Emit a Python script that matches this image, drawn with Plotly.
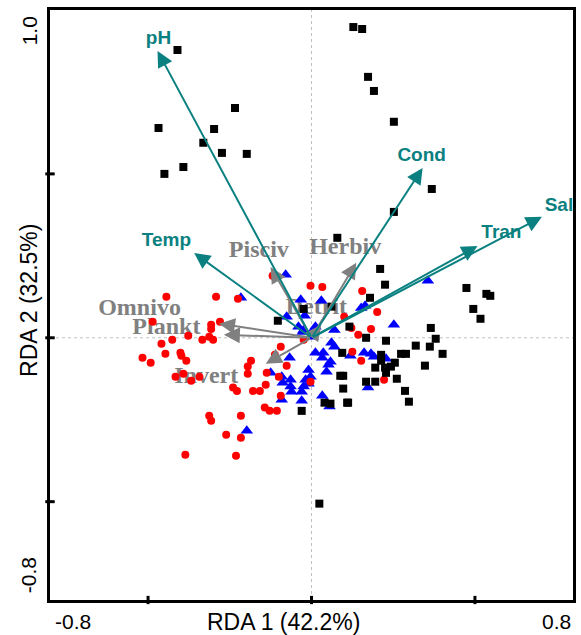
import plotly.graph_objects as go

# ---------------- data ----------------
# Sites, group 1 (black squares)
g1_x = [-0.410, -0.468, -0.450, -0.392, 0.128, 0.155, 0.173, 0.191, -0.234, -0.298,
        -0.331, -0.274, -0.198, 0.252, 0.368, 0.252, 0.210, 0.225, 0.474, 0.535,
        0.547, 0.495, 0.517, 0.365, 0.380, 0.228, 0.319, 0.362, 0.401, 0.274,
        0.289, 0.347, 0.255, 0.261, 0.286, 0.298, 0.213, 0.213, 0.195, 0.225,
        0.243, 0.228, 0.167, 0.195, 0.112, 0.079, -0.024, 0.061, -0.103, 0.116,
        0.094, 0.088, 0.097, 0.097, 0.109, 0.040, 0.058, -0.030, 0.024, 0.167,
        0.179]
g1_y = [0.878, 0.640, 0.500, 0.521, 0.948, 0.942, 0.796, 0.753, 0.701, 0.637,
        0.595, 0.564, 0.561, 0.659, 0.454, 0.384, 0.210, 0.162, 0.152, 0.134,
        0.128, 0.088, 0.058, 0.030, -0.003, -0.009, -0.024, -0.027, -0.049, -0.049,
        -0.049, -0.085, -0.076, -0.125, -0.162, -0.195, -0.052, -0.070, -0.091, -0.091,
        -0.088, -0.107, -0.134, -0.134, -0.198, 0.305, 0.088, 0.095, 0.052, 0.034,
        -0.046, -0.116, -0.116, -0.155, -0.198, -0.198, -0.201, -0.223, -0.506, 0.000,
        0.122]

# Sites, group 2 (red circles)
g2_x = [-0.444, -0.292, -0.225, -0.486, -0.280, -0.307, -0.307, -0.377, -0.426, -0.334,
        -0.313, -0.301, -0.459, -0.517, -0.492, -0.447, -0.401, -0.398, -0.383, -0.416,
        -0.392, -0.368, -0.343, -0.240, -0.228, -0.195, -0.195, -0.313, -0.307, -0.216,
        -0.261, -0.216, -0.386, -0.231, -0.143, -0.128, -0.106, -0.119, -0.003, 0.033,
        -0.024, -0.094, -0.112, -0.076, -0.100, -0.137, -0.185, -0.140, -0.158, -0.179,
        -0.094, -0.003, 0.155, 0.100, 0.143, 0.182, 0.125, 0.152, 0.201, 0.122,
        0.222]
g2_y = [0.125, 0.125, 0.119, 0.049, 0.049, 0.040, 0.027, 0.006, -0.006, -0.006,
        0.003, -0.006, -0.018, -0.061, -0.076, -0.049, -0.046, -0.055, -0.070, -0.119,
        -0.110, -0.131, -0.119, -0.152, -0.162, -0.088, -0.110, -0.238, -0.253, -0.238,
        -0.296, -0.305, -0.357, -0.360, -0.213, -0.223, -0.223, 0.189, 0.159, 0.155,
        -0.006, -0.027, -0.052, -0.085, -0.119, -0.107, -0.070, -0.143, -0.162, -0.162,
        -0.177, -0.134, 0.143, 0.064, 0.009, 0.027, -0.043, -0.070, 0.079, 0.030,
        -0.128]

# Sites, group 3 (blue triangles)
g3_x = [-0.079, -0.216, -0.033, 0.030, 0.164, -0.021, -0.076, -0.040, -0.024, 0.012,
        0.006, 0.003, 0.070, 0.061, 0.070, 0.012, 0.036, 0.033, 0.058, 0.052,
        0.046, -0.067, -0.009, -0.003, -0.018, -0.009, -0.024, -0.030, -0.125, -0.091,
        -0.088, -0.064, -0.064, -0.061, -0.091, -0.030, 0.033, 0.046, 0.055, -0.198,
        0.119, 0.161, 0.182, 0.191, 0.173, 0.356, 0.152, 0.252, 0.228, -0.027]
g3_y = [0.192, 0.122, 0.116, 0.113, 0.098, 0.067, 0.064, 0.034, 0.024, 0.034,
        0.024, 0.003, 0.024, -0.015, -0.027, -0.046, -0.046, -0.061, -0.073, -0.082,
        -0.104, -0.061, -0.098, -0.119, -0.128, -0.140, -0.149, -0.165, -0.107, -0.119,
        -0.137, -0.128, -0.149, -0.165, -0.189, -0.192, -0.177, -0.198, -0.210, -0.284,
        -0.055, -0.046, -0.049, -0.058, -0.152, 0.174, 0.091, 0.040, -0.064, 0.018]

# Environmental vectors (teal)
env_names = ["pH", "Temp", "Cond", "Sal", "Tran"]
env_x = [-0.471, -0.359, 0.340, 0.705, 0.508]
env_y = [0.875, 0.259, 0.518, 0.369, 0.280]

# Feeding-guild vectors (grey)
guild_names = ["Omnivo", "Plankt", "Invert", "Pisciv", "Herbiv", "Detrit"]
guild_x = [-0.283, -0.268, -0.140, -0.125, 0.137, 0.030]
guild_y = [0.043, 0.009, -0.079, 0.216, 0.229, 0.040]

# label placement (data units)
env_lab_x = [-0.468, -0.444, 0.337, 0.757, 0.581]
env_lab_y = [0.910, 0.293, 0.555, 0.402, 0.320]
guild_lab_x = [-0.526, -0.444, -0.322, -0.161, 0.103, 0.015]
guild_lab_y = [0.088, 0.031, -0.119, 0.265, 0.274, 0.092]

x_ticks = [-0.5, 0, 0.5]
y_ticks = [-0.5, 0, 0.5]

x_label = "RDA 1 (42.2%)"
y_label = "RDA 2 (32.5%)"

TEAL = "#0a8080"
GREY = "#808080"

fig = go.Figure()

# labels (drawn beneath points)
fig.add_trace(go.Scatter(x=guild_lab_x, y=guild_lab_y, text=guild_names, mode="text",
                         textfont=dict(family="Liberation Serif", size=24, color=GREY, weight="bold"),
                         textposition="middle center", hoverinfo="skip", showlegend=False,
                         cliponaxis=False))
fig.add_trace(go.Scatter(x=env_lab_x, y=env_lab_y, text=env_names, mode="text",
                         textfont=dict(family="Liberation Sans", size=19, color=TEAL, weight="bold"),
                         textposition="middle center", hoverinfo="skip", showlegend=False,
                         cliponaxis=False))

fig.add_trace(go.Scatter(x=g3_x, y=g3_y, mode="markers", showlegend=False,
                         marker=dict(symbol="triangle-up", size=11, color="#0000ff")))
fig.add_trace(go.Scatter(x=g2_x, y=g2_y, mode="markers", showlegend=False,
                         marker=dict(symbol="circle", size=8, color="#ff0000")))
fig.add_trace(go.Scatter(x=g1_x, y=g1_y, mode="markers", showlegend=False,
                         marker=dict(symbol="square", size=8, color="#000000")))

ann = []
for xx, yy in zip(guild_x, guild_y):
    ann.append(dict(x=xx, y=yy, ax=0, ay=0, xref="x", yref="y", axref="x", ayref="y",
                    text="", showarrow=True, arrowhead=2, arrowsize=1.6, arrowwidth=2,
                    arrowcolor=GREY, standoff=0))
for xx, yy in zip(env_x, env_y):
    ann.append(dict(x=xx, y=yy, ax=0, ay=0, xref="x", yref="y", axref="x", ayref="y",
                    text="", showarrow=True, arrowhead=2, arrowsize=1.6, arrowwidth=2,
                    arrowcolor=TEAL, standoff=0))

tickfont = dict(family="Liberation Sans", size=21, color="black")
titlefont = dict(family="Liberation Sans", size=23, color="black")
ann += [
    dict(text="1.0", xref="paper", yref="paper", x=-0.040, y=0.964, textangle=-90,
         showarrow=False, font=tickfont, xanchor="center", yanchor="middle"),
    dict(text="-0.8", xref="paper", yref="paper", x=-0.042, y=0.042, textangle=-90,
         showarrow=False, font=tickfont, xanchor="center", yanchor="middle"),
    dict(text=y_label, xref="paper", yref="paper", x=-0.040, y=0.507, textangle=-90,
         showarrow=False, font=titlefont, xanchor="center", yanchor="middle"),
    dict(text="-0.8", xref="paper", yref="paper", x=0.044, y=-0.037,
         showarrow=False, font=tickfont, xanchor="center", yanchor="middle"),
    dict(text="0.8", xref="paper", yref="paper", x=0.968, y=-0.037,
         showarrow=False, font=tickfont, xanchor="center", yanchor="middle"),
    dict(text=x_label, xref="paper", yref="paper", x=0.447, y=-0.037,
         showarrow=False, font=titlefont, xanchor="center", yanchor="middle"),
]

shapes = [
    dict(type="line", xref="x", yref="paper", x0=0, x1=0, y0=0, y1=1,
         line=dict(color="#c0c0c0", width=1, dash="dot"), layer="below"),
    dict(type="line", xref="paper", yref="y", x0=0, x1=1, y0=0, y1=0,
         line=dict(color="#c0c0c0", width=1, dash="dot"), layer="below"),
]
for t in y_ticks:
    shapes.append(dict(type="line", xref="paper", yref="y", x0=-0.009, x1=0.009, y0=t, y1=t,
                       line=dict(color="black", width=3)))
for t in x_ticks:
    shapes.append(dict(type="line", xref="x", yref="paper", x0=t, x1=t, y0=-0.007, y1=0.007,
                       line=dict(color="black", width=3)))

fig.update_layout(
    width=581, height=635,
    margin=dict(l=50, r=5, t=10, b=35),
    paper_bgcolor="white", plot_bgcolor="white",
    annotations=ann, shapes=shapes,
    xaxis=dict(range=[-0.8, 0.8], showgrid=False, zeroline=False, showticklabels=False,
               ticks="", showline=True, linecolor="black", linewidth=3, mirror=True),
    yaxis=dict(range=[-0.8, 1.0], showgrid=False, zeroline=False, showticklabels=False,
               ticks="", showline=True, linecolor="black", linewidth=3, mirror=True),
)

fig.write_html("out.html")
